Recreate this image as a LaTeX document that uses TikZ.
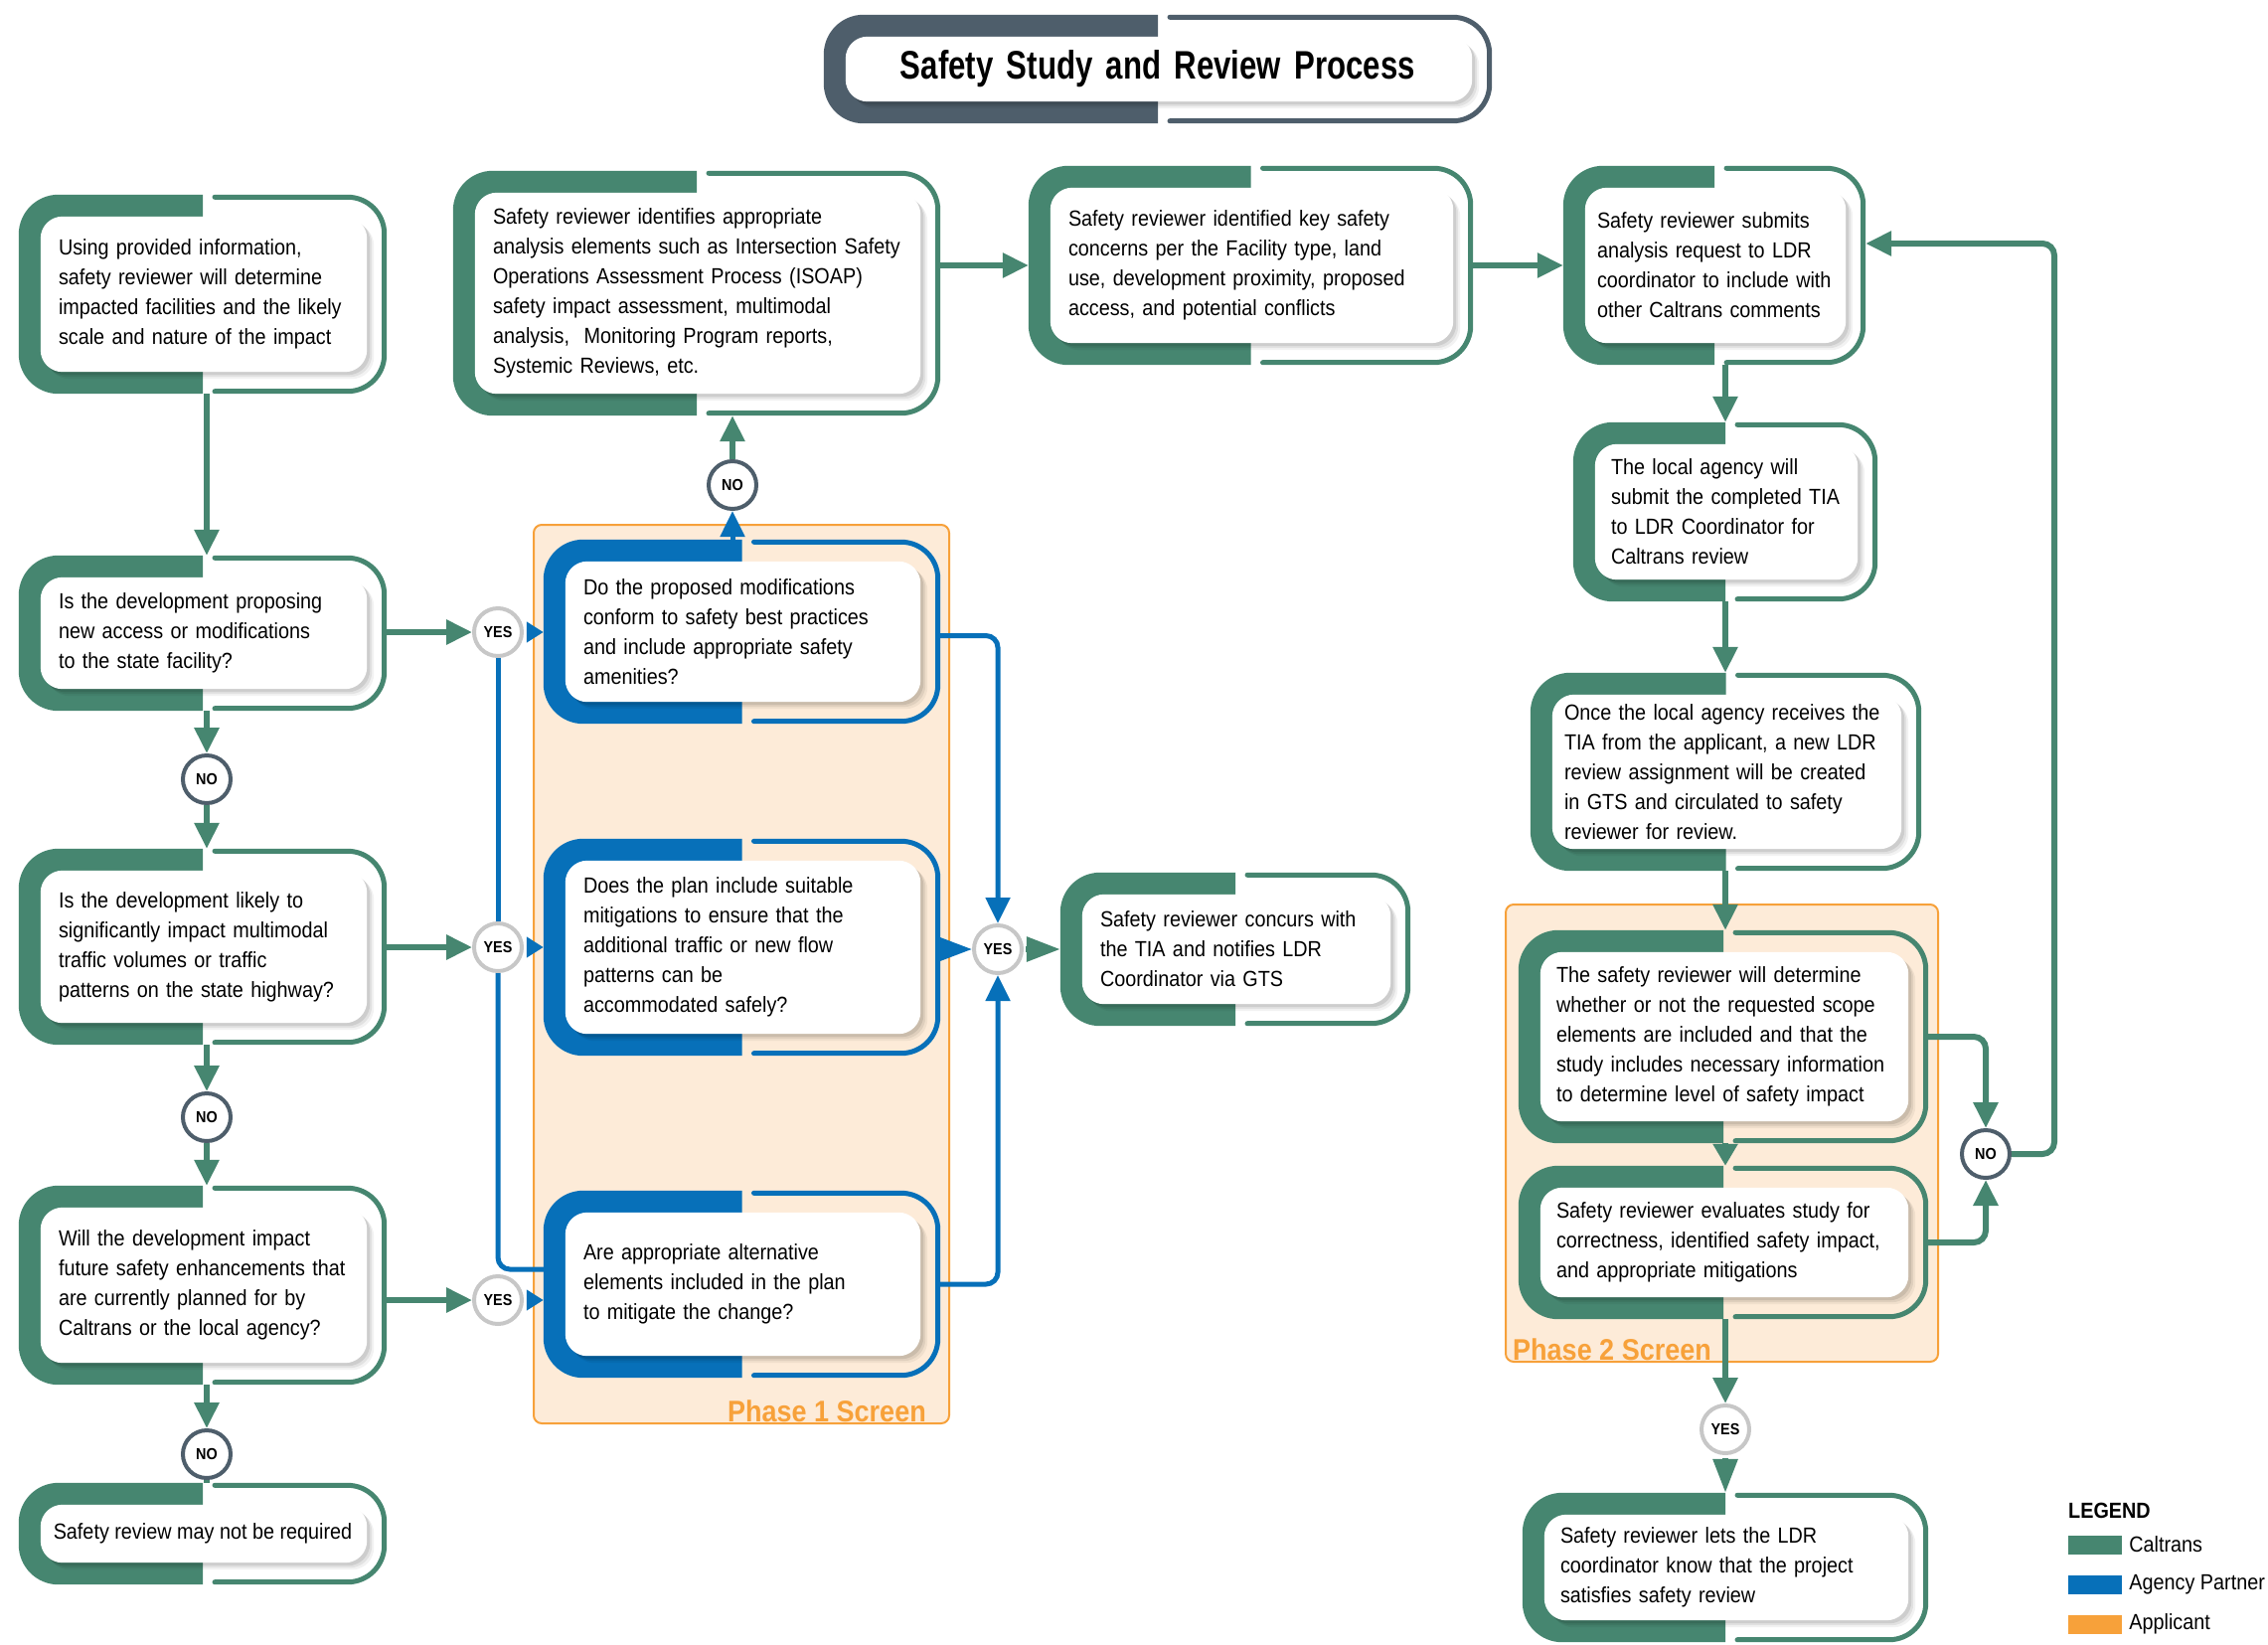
\documentclass[tikz,border=0pt]{standalone}
\usepackage{fontspec}
\setmainfont{Liberation Sans}[FakeStretch=0.9]
\newfontfamily\titlefont{Liberation Sans}[FakeStretch=0.78]
\usetikzlibrary{arrows.meta, positioning}

\definecolor{calgreen}{HTML}{468670}
\definecolor{agblue}{HTML}{0770B9}
\definecolor{apporange}{HTML}{F7A13A}
\definecolor{peach}{HTML}{FDEBD8}
\definecolor{slate}{HTML}{4E5E6B}

\pgfdeclarelayer{phase}
\pgfdeclarelayer{frames}
\pgfsetlayers{phase,frames,main}

% thick left half, thin right half, white inner card
\newcommand{\flowframe}[2]{%
  \begin{pgfonlayer}{frames}
    \begin{scope}
      \clip ([shift={(-2,-2)}]#1.south west) rectangle ([yshift=2]#1.north);
      \fill[#2, rounded corners=40pt] (#1.south west) rectangle (#1.north east);
    \end{scope}
    \draw[#2, line width=5pt, line cap=round, rounded corners=37pt]
      ([shift={(12,-2.5)}]#1.north) -- ([shift={(-2.5,-2.5)}]#1.north east)
      -- ([shift={(-2.5,2.5)}]#1.south east) -- ([shift={(12,2.5)}]#1.south);
    \foreach \s/\o in {7/0.05,5/0.07,3/0.09}
      \fill[black, opacity=\o, rounded corners=22pt]
        ([shift={(22+\s,-22-\s)}]#1.north west) rectangle ([shift={(-20+\s,22-\s)}]#1.south east);
    \fill[white, rounded corners=22pt]
      ([shift={(22,-22)}]#1.north west) rectangle ([shift={(-20,22)}]#1.south east);
  \end{pgfonlayer}}

\begin{document}
\begin{tikzpicture}[x=1pt, y=1pt,
  box/.style={rectangle, inner xsep=40pt, inner ysep=0pt, align=left, font=\fontsize{22}{30}\selectfont},
  circ/.style={circle, fill=white, line width=4pt, minimum size=48pt, inner sep=0pt, font=\bfseries\fontsize{16}{16}\selectfont},
  nocirc/.style={circ, draw=slate},
  yescirc/.style={circ, draw=black!22},
  gline/.style={calgreen, line width=6pt},
  bline/.style={agblue, line width=5pt},
  arr/.style={-{Triangle[width=24pt,length=26pt]}},
  smallarr/.style={-{Triangle[width=20pt,length=17pt]}},
  midarr/.style={-{Triangle[width=24pt,length=34pt]}},
  phasebox/.style={draw=apporange, fill=peach, line width=2pt, rounded corners=8pt},
  phaselabel/.style={text=apporange, font=\bfseries\fontsize{30}{30}\selectfont, inner sep=0pt},
  swatch/.style={minimum width=54pt, minimum height=19pt, inner sep=0pt},
  legtext/.style={inner sep=0pt, font=\fontsize{22}{22}\selectfont}]
\useasboundingbox (0,0) rectangle (2282,-1654);

% phase screens
\begin{pgfonlayer}{phase}
  \node[phasebox, minimum width=418pt, minimum height=904pt] (ph1) at (746,-980) {};
  \node[phasebox, minimum width=435pt, minimum height=460pt] (ph2) at (1732.5,-1140) {};
\end{pgfonlayer}
\node[phaselabel, anchor=south east] (ph1lbl) at ([shift={(-24,2)}]ph1.south east) {Phase 1 Screen};
\node[phaselabel, anchor=south west] (ph2lbl) at ([shift={(8,2)}]ph2.south west) {Phase 2 Screen};

% title
\node[box, align=center, text width=592pt, minimum height=109pt, font=\titlefont\bfseries\fontsize{40}{40}\selectfont] (title) at (1165,-69.5) {Safety Study and Review Process};
\flowframe{title}{slate}

% left column
\node[box, text width=290pt, minimum height=200pt] (using) at (204,-296) {Using provided information,\\safety reviewer will determine\\impacted facilities and the likely\\scale and nature of the impact};
\node[box, text width=290pt, minimum height=156pt] (access) at (204,-637) {Is the development proposing\\new access or modifications\\to the state facility?};
\node[box, text width=290pt, minimum height=197pt] (volume) at (204,-952.5) {Is the development likely to\\significantly impact multimodal\\traffic volumes or traffic\\patterns on the state highway?};
\node[box, text width=290pt, minimum height=200pt] (future) at (204,-1293) {Will the development impact\\future safety enhancements that\\are currently planned for by\\Caltrans or the local agency?};
\node[box, inner xsep=0pt, minimum width=370pt, minimum height=102pt] (notreq) at (204,-1543) {Safety review may not be required};
\foreach \n in {using, access, volume, future, notreq} {\flowframe{\n}{calgreen}}

% top row
\node[box, text width=410pt, minimum height=246pt] (elements) at (701,-295) {Safety reviewer identifies appropriate\\analysis elements such as Intersection Safety\\Operations Assessment Process (ISOAP)\\safety impact assessment, multimodal\\analysis,\ \ Monitoring Program reports,\\Systemic Reviews, etc.};
\node[box, text width=367pt, minimum height=200pt] (concerns) at (1258.5,-267) {Safety reviewer identified key safety\\concerns per the Facility type, land\\use, development proximity, proposed\\access, and potential conflicts};
\node[box, inner xsep=34pt, text width=236pt, minimum height=200pt] (submit) at (1725,-267) {Safety reviewer submits\\analysis request to LDR\\coordinator to include with\\other Caltrans comments};
\foreach \n in {elements, concerns, submit} {\flowframe{\n}{calgreen}}

% phase 1 questions
\node[box, text width=319pt, minimum height=185pt] (conform) at (746.5,-635.5) {Do the proposed modifications\\conform to safety best practices\\and include appropriate safety\\amenities?};
\node[box, text width=319pt, minimum height=218pt] (mitig) at (746.5,-953) {Does the plan include suitable\\mitigations to ensure that the\\additional traffic or new flow\\patterns can be\\accommodated safely?};
\node[box, text width=319pt, minimum height=188pt] (altern) at (746.5,-1292) {Are appropriate alternative\\elements included in the plan\\to mitigate the change?};
\foreach \n in {conform, mitig, altern} {\flowframe{\n}{agblue}}

\node[box, text width=272pt, minimum height=154pt] (concur) at (1243,-955) {Safety reviewer concurs with\\the TIA and notifies LDR\\Coordinator via GTS};
\flowframe{concur}{calgreen}

% right column
\node[box, inner xsep=38pt, text width=230pt, minimum height=180pt] (tia) at (1736,-515) {The local agency will\\submit the completed TIA\\to LDR Coordinator for\\Caltrans review};
\node[box, inner xsep=34pt, text width=325pt, minimum height=199pt] (gts) at (1736.5,-776.5) {Once the local agency receives the\\TIA from the applicant, a new LDR\\review assignment will be created\\in GTS and circulated to safety\\reviewer for review.};
\node[box, inner xsep=38pt, text width=336pt, minimum height=214pt] (scope) at (1734,-1043) {The safety reviewer will determine\\whether or not the requested scope\\elements are included and that the\\study includes necessary information\\to determine level of safety impact};
\node[box, inner xsep=38pt, text width=336pt, minimum height=154pt] (evaluate) at (1734,-1250) {Safety reviewer evaluates study for\\correctness, identified safety impact,\\and appropriate mitigations};
\node[box, inner xsep=38pt, text width=332pt, minimum height=150pt] (satisfy) at (1736,-1577) {Safety reviewer lets the LDR\\coordinator know that the project\\satisfies safety review};
\foreach \n in {tia, gts, scope, evaluate, satisfy} {\flowframe{\n}{calgreen}}

% decision circles
\node[nocirc] (no1) at (208,-784) {NO};
\node[nocirc] (no2) at (208,-1124) {NO};
\node[nocirc] (no3) at (208,-1463) {NO};
\node[nocirc] (notop) at (737,-488) {NO};
\node[nocirc] (noright) at (1998,-1161) {NO};
\node[yescirc] (yes1) at (501,-636) {YES};
\node[yescirc] (yes2) at (501,-953) {YES};
\node[yescirc] (yes3) at (501,-1308) {YES};
\node[yescirc] (yesmid) at (1004,-955) {YES};
\node[yescirc] (yesright) at (1736,-1438) {YES};
\coordinate (loop) at (2067,-245);

% left column flow
\draw[gline, arr] (using.south -| no1) -- (access.north -| no1);
\draw[gline, arr] (access.south -| no1) -- (no1);
\draw[gline, arr] (no1) -- (volume.north -| no1);
\draw[gline, arr] (volume.south -| no2) -- (no2);
\draw[gline, arr] (no2) -- (future.north -| no2);
\draw[gline, arr] (future.south -| no3) -- (no3);
\draw[gline] (no3) -- (notreq.north -| no3);
\draw[gline, arr] (access.east |- yes1) -- (yes1);
\draw[gline, arr] (volume.east |- yes2) -- (yes2);
\draw[gline, arr] (future.east |- yes3) -- (yes3);

% into phase 1
\draw[bline, smallarr, shorten <=5pt] (yes1) -- (conform.west |- yes1);
\draw[bline, smallarr, shorten <=5pt] (yes2) -- (mitig.west |- yes2);
\draw[bline, smallarr, shorten <=5pt] (yes3) -- (altern.west |- yes3);
\draw[bline] (yes1) -- (yes2);
\draw[bline, rounded corners=12pt] (yes2) |- ([yshift=15]altern.west);
\draw[bline, arr] (conform.north -| notop) -- (notop);
\draw[gline, arr] (notop) -- (elements.south -| notop);
\draw[bline, arr, rounded corners=12pt] ([yshift=-4]conform.east) -| (yesmid);
\draw[bline, midarr] (mitig.east |- yesmid) -- (yesmid);
\draw[bline, arr, rounded corners=12pt] (altern.east) -| (yesmid);
\draw[gline, midarr, shorten <=2pt] (yesmid) -- (concur.west |- yesmid);

% top row and right column
\draw[gline, arr] (elements.east |- concerns.west) -- (concerns.west);
\draw[gline, arr] (concerns.east) -- (submit.west);
\draw[gline, arr] (submit.south -| tia) -- (tia.north);
\draw[gline, arr] (tia.south) -- (tia.south |- gts.north);
\draw[gline, arr] (gts.south -| tia) -- (scope.north -| tia);
\draw[gline, -{Triangle[width=24pt,length=22pt]}] (scope.south -| tia) -- (evaluate.north -| tia);
\draw[gline, arr] (evaluate.south -| yesright) -- (yesright);
\draw[gline, midarr, shorten <=3pt] (yesright) -- (satisfy.north -| yesright);
\draw[gline, arr, rounded corners=12pt] (scope.east) -| (noright);
\draw[gline, arr, rounded corners=12pt] (evaluate.east) -| (noright);
\draw[gline, arr, rounded corners=12pt] (noright) -| (loop) -- (submit.east |- loop);

% legend
\node[anchor=north west, inner sep=0pt, font=\bfseries\fontsize{22}{22}\selectfont] (legend) at (2081,-1512) {LEGEND};
\node[swatch, fill=calgreen] (swcal) at (2108,-1554) {};
\node[legtext, right=7pt of swcal] (legcal) {Caltrans};
\node[swatch, fill=agblue] (swagy) at (2108,-1594) {};
\node[legtext, right=7pt of swagy] (legagy) {Agency Partner};
\node[swatch, fill=apporange] (swapp) at (2108,-1634) {};
\node[legtext, right=7pt of swapp] (legapp) {Applicant};
\end{tikzpicture}
\end{document}
